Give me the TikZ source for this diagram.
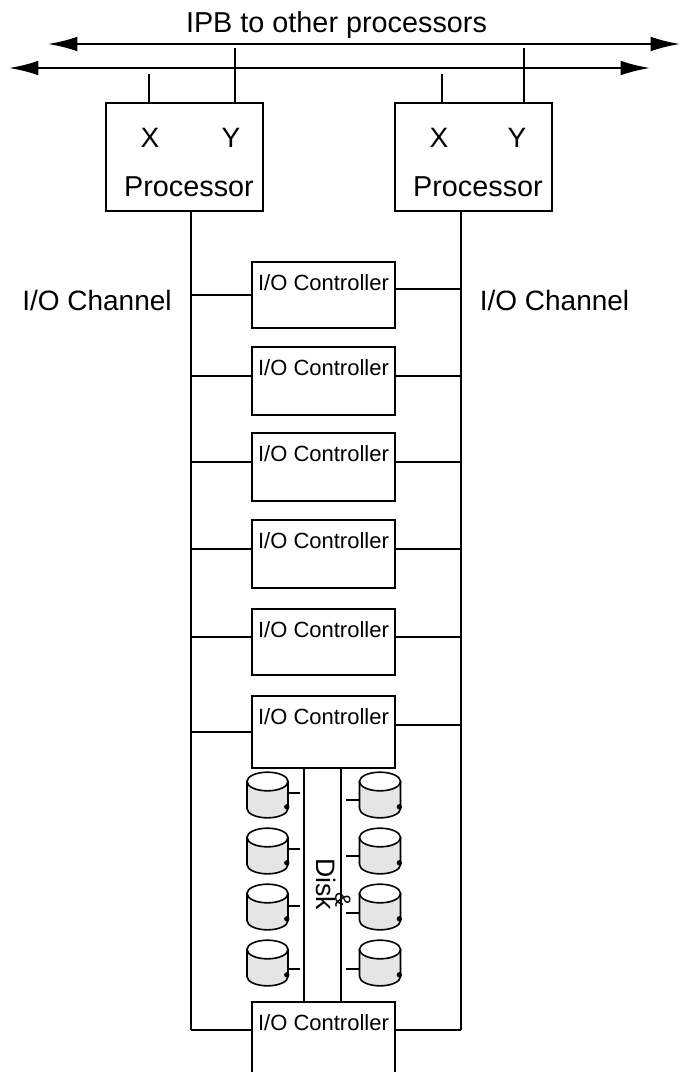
\documentclass[tikz,border=0pt]{standalone}
\usepackage{fontspec}
\setmainfont{Liberation Sans}
\usetikzlibrary{arrows.meta}

\begin{document}
\begin{tikzpicture}[
    x=0.75pt, y=-0.75pt,
    line width=1.5pt,
    bus/.style={{Latex[length=22pt,width=11pt]}-{Latex[length=22pt,width=11pt]}, line width=1.5pt},
    procbox/.style={draw, inner sep=0pt, minimum width=117.75pt, minimum height=81pt},
    ctrlbox/.style={draw, fill=white, inner sep=0pt, minimum width=107.25pt},
    bigtext/.style={font=\fontsize{21}{24}\selectfont, inner sep=0pt},
    widetext/.style={font=\fontsize{21.6}{24}\selectfont, inner sep=0pt},
    ctrltext/.style={font=\fontsize{16.5}{19}\selectfont, inner sep=0pt},
    diskbody/.style={draw, fill=black!10, line width=1.2pt},
    disktop/.style={draw, fill=white, line width=1.2pt},
    stub/.style={line width=1.2pt}
]
\useasboundingbox (0,0) rectangle (682,1072);

% Macros for repeated elements
\newcommand{\drawController}[5]{
    % name, top, bottom, tie left, tie right
    \node[ctrlbox, minimum height={(#3-#2)*0.75pt}] (#1) at (323.5,{(#2+#3)/2}) {};
    \node[ctrltext] (#1text) at ([yshift=-16pt]#1.north) {I/O Controller};
    \coordinate (#1L) at (191,#4);
    \coordinate (#1R) at (461,#5);
    \draw (#1L) -- (#1L -| #1.west);
    \draw (#1R) -- (#1R -| #1.east);
}
\newcommand{\drawDisk}[5]{
    % name, center x, top center y, stub y, stub length
    \coordinate (#1top) at (#2,#3);
    \draw[diskbody] ([xshift=-15.4pt]#1top) -- ++(0,27)
        arc[start angle=180, end angle=360, x radius=15.4pt, y radius=7pt] -- ++(0,-27) -- cycle;
    \draw[disktop] (#1top) ellipse [x radius=15.4pt, y radius=7pt];
    \fill ([xshift=14.5pt,yshift=-19pt]#1top) circle (2pt);
    \coordinate (#1stub) at ({#2+sign(#5)*20.5},#4);
    \draw[stub] (#1stub) -- ++(#5,0);
}

% ==========================================
% Buses
\coordinate (busAw) at (48,44);
\coordinate (busAe) at (680,44);
\coordinate (busBw) at (9,68);
\coordinate (busBe) at (650,68);
\draw[bus] (busAw) -- (busAe);
\draw[bus] (busBw) -- (busBe);
\node[widetext] (ipb) at (336.5,25) {IPB to other processors};

% ==========================================
% Processors
\node[procbox] (procL) at (184.5,157) {};
\node[procbox] (procR) at (473.5,157) {};
\node[bigtext] (procLx) at (150,138) {X};
\node[bigtext] (procLy) at (231,138) {Y};
\node[widetext] (procLname) at (189,187) {Processor};
\node[bigtext] (procRx) at (439,138) {X};
\node[bigtext] (procRy) at (517,138) {Y};
\node[widetext] (procRname) at (478,187) {Processor};

\coordinate (portLx) at (149,74);
\coordinate (portLy) at (235,48);
\coordinate (portRx) at (442,74);
\coordinate (portRy) at (524,48);
\draw (portLx) -- (portLx |- procL.north);
\draw (portLy) -- (portLy |- procL.north);
\draw (portRx) -- (portRx |- procR.north);
\draw (portRy) -- (portRy |- procR.north);

% ==========================================
% I/O channels
\coordinate (chanL) at (191,1030);
\coordinate (chanR) at (461,1030);
\draw (procL.south -| chanL) -- (chanL);
\draw (procR.south -| chanR) -- (chanR);
\node[bigtext] (chanLtext) at (97,300) {I/O Channel};
\node[bigtext] (chanRtext) at (554.5,300) {I/O Channel};

% ==========================================
% I/O controllers
\drawController{ctrlA}{262}{328}{295}{289}
\drawController{ctrlB}{347}{415}{376}{376}
\drawController{ctrlC}{433}{501}{462}{462}
\drawController{ctrlD}{520}{588}{549}{549}
\drawController{ctrlE}{609}{675}{637}{637}
\drawController{ctrlF}{696}{768}{732}{725}
\drawController{ctrlG}{1002}{1090}{1030}{1030}

% ==========================================
% Disk bus
\coordinate (driveL) at (304,0);
\coordinate (driveR) at (341,0);
\draw (driveL |- ctrlF.south) -- (driveL |- ctrlG.north);
\draw (driveR |- ctrlF.south) -- (driveR |- ctrlG.north);
\node[bigtext, rotate=-90, font=\fontsize{20}{24}\selectfont] (disktext) at (326,884) {Disk};
\node[ctrltext, rotate=-90] (amptext) at (343,900) {\&};

% ==========================================
% Disks
\drawDisk{diskLa}{267.5}{781.5}{793}{12}
\drawDisk{diskLb}{267.5}{837.5}{849}{12}
\drawDisk{diskLc}{267.5}{893.5}{906}{12}
\drawDisk{diskLd}{267.5}{949.5}{969}{12}
\drawDisk{diskRa}{380}{781.5}{800}{-14}
\drawDisk{diskRb}{380}{837.5}{856}{-14}
\drawDisk{diskRc}{380}{893.5}{913}{-14}
\drawDisk{diskRd}{380}{949.5}{969}{-14}

\end{tikzpicture}
\end{document}
